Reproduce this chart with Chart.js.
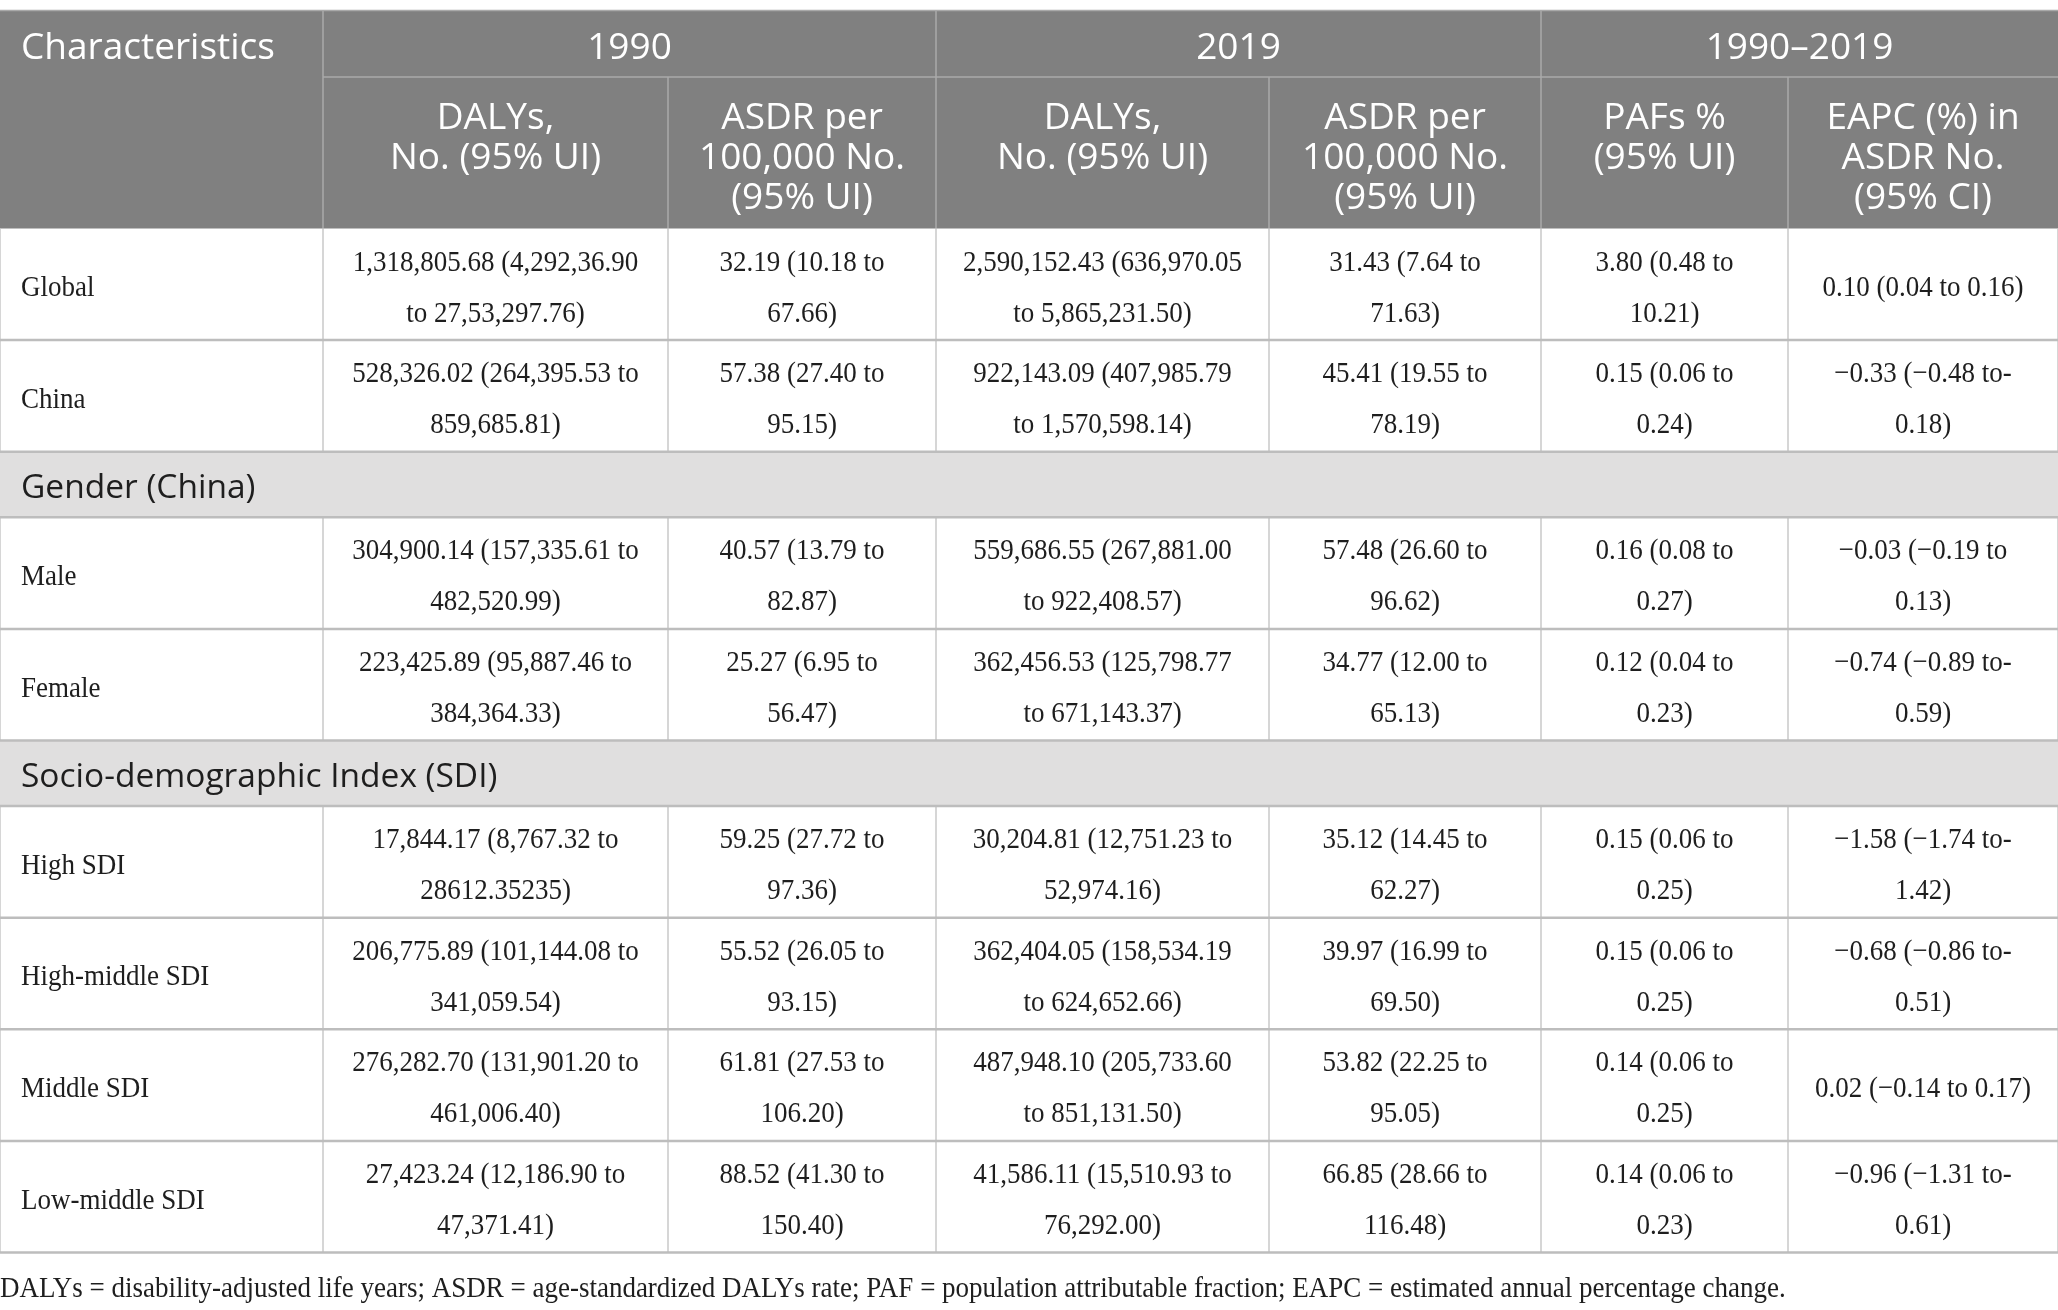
<!DOCTYPE html>
<html>
<head>
<meta charset="utf-8">
<title>DALYs table</title>
<script src="https://cdn.jsdelivr.net/npm/chart.js@4.4.1/dist/chart.umd.min.js"></script>
<style>
  html, body { margin: 0; padding: 0; background: #fff; }
  #wrap { width: 2058px; height: 1310px; }
</style>
</head>
<body>
<div id="wrap"><canvas id="tabla"></canvas></div>
<script>
// Datos
const periodos = ["1990", "2019", "1990–2019"];
const encabezados = [
  "DALYs,\nNo. (95% UI)",
  "ASDR per\n100,000 No.\n(95% UI)",
  "DALYs,\nNo. (95% UI)",
  "ASDR per\n100,000 No.\n(95% UI)",
  "PAFs %\n(95% UI)",
  "EAPC (%) in\nASDR No.\n(95% CI)",
];
const filas = ["Global", "China", "Male", "Female", "High SDI", "High-middle SDI", "Middle SDI", "Low-middle SDI"];
const grupos = ["Gender (China)", "Socio-demographic Index (SDI)"];
const inicioGrupo = [2, 4]; // fila donde empieza cada grupo

const dalys1990 = [
  "1,318,805.68 (4,292,36.90\nto 27,53,297.76)",
  "528,326.02 (264,395.53 to\n859,685.81)",
  "304,900.14 (157,335.61 to\n482,520.99)",
  "223,425.89 (95,887.46 to\n384,364.33)",
  "17,844.17 (8,767.32 to\n28612.35235)",
  "206,775.89 (101,144.08 to\n341,059.54)",
  "276,282.70 (131,901.20 to\n461,006.40)",
  "27,423.24 (12,186.90 to\n47,371.41)",
];
const asdr1990 = [
  "32.19 (10.18 to\n67.66)",
  "57.38 (27.40 to\n95.15)",
  "40.57 (13.79 to\n82.87)",
  "25.27 (6.95 to\n56.47)",
  "59.25 (27.72 to\n97.36)",
  "55.52 (26.05 to\n93.15)",
  "61.81 (27.53 to\n106.20)",
  "88.52 (41.30 to\n150.40)",
];
const dalys2019 = [
  "2,590,152.43 (636,970.05\nto 5,865,231.50)",
  "922,143.09 (407,985.79\nto 1,570,598.14)",
  "559,686.55 (267,881.00\nto 922,408.57)",
  "362,456.53 (125,798.77\nto 671,143.37)",
  "30,204.81 (12,751.23 to\n52,974.16)",
  "362,404.05 (158,534.19\nto 624,652.66)",
  "487,948.10 (205,733.60\nto 851,131.50)",
  "41,586.11 (15,510.93 to\n76,292.00)",
];
const asdr2019 = [
  "31.43 (7.64 to\n71.63)",
  "45.41 (19.55 to\n78.19)",
  "57.48 (26.60 to\n96.62)",
  "34.77 (12.00 to\n65.13)",
  "35.12 (14.45 to\n62.27)",
  "39.97 (16.99 to\n69.50)",
  "53.82 (22.25 to\n95.05)",
  "66.85 (28.66 to\n116.48)",
];
const pafs = [
  "3.80 (0.48 to\n10.21)",
  "0.15 (0.06 to\n0.24)",
  "0.16 (0.08 to\n0.27)",
  "0.12 (0.04 to\n0.23)",
  "0.15 (0.06 to\n0.25)",
  "0.15 (0.06 to\n0.25)",
  "0.14 (0.06 to\n0.25)",
  "0.14 (0.06 to\n0.23)",
];
const eapc = [
  "0.10 (0.04 to 0.16)",
  "−0.33 (−0.48 to-\n0.18)",
  "−0.03 (−0.19 to\n0.13)",
  "−0.74 (−0.89 to-\n0.59)",
  "−1.58 (−1.74 to-\n1.42)",
  "−0.68 (−0.86 to-\n0.51)",
  "0.02 (−0.14 to 0.17)",
  "−0.96 (−1.31 to-\n0.61)",
];
const nota = "DALYs = disability-adjusted life years; ASDR = age-standardized DALYs rate; PAF = population attributable fraction; EAPC = estimated annual percentage change.";

const columnas = [filas, dalys1990, asdr1990, dalys2019, asdr2019, pafs, eapc];

// Layout (unidades de la escala)
const ANCHO = 2058, ALTO = 1310;
const bordesCol = [0, 323, 668, 936, 1269, 1541, 1788, 2058];
const TOPE = 10.5, CAB1 = 77, CAB2 = 228.5;
const ALTO_FILA = 111.6, ALTO_GRUPO = 65.6;
const SANS = '"Open Sans", "Noto Sans", sans-serif';
const SERIF = '"Liberation Serif", "DejaVu Serif", serif';
const ESTRECHO = 0.9; // la serif del original es condensada

// texto serif condensado, varias lineas centradas en cy
const lineasTexto = (ctx, txt, cx, cy, paso, align) => {
  const partes = txt.split("\n");
  partes.forEach((p, i) => {
    ctx.save();
    ctx.translate(cx, cy + (i - (partes.length - 1) / 2) * paso);
    ctx.scale(ESTRECHO, 1);
    ctx.textAlign = align;
    ctx.fillText(p, 0, 0);
    ctx.restore();
  });
};

const pluginTabla = {
  id: "tabla",
  afterDraw(chart) {
    const { ctx, scales } = chart;
    const X = (v) => scales.x.getPixelForValue(v);
    const Y = (v) => scales.y.getPixelForValue(v);
    ctx.save();
    ctx.textBaseline = "middle";

    // Cabecera
    ctx.fillStyle = "#808080";
    ctx.fillRect(X(0), Y(TOPE), X(ANCHO) - X(0), Y(CAB2) - Y(TOPE));
    ctx.strokeStyle = "#a9a9a9";
    ctx.lineWidth = 1.5;
    ctx.beginPath();
    ctx.moveTo(X(0), Y(TOPE)); ctx.lineTo(X(ANCHO), Y(TOPE));
    ctx.moveTo(X(bordesCol[1]), Y(CAB1)); ctx.lineTo(X(ANCHO), Y(CAB1));
    [1, 3, 5].forEach((c) => { ctx.moveTo(X(bordesCol[c]), Y(TOPE)); ctx.lineTo(X(bordesCol[c]), Y(CAB2)); });
    [2, 4, 6].forEach((c) => { ctx.moveTo(X(bordesCol[c]), Y(CAB1)); ctx.lineTo(X(bordesCol[c]), Y(CAB2)); });
    ctx.stroke();

    ctx.fillStyle = "#ffffff";
    ctx.font = `400 37px ${SANS}`;
    ctx.textAlign = "left";
    ctx.fillText("Characteristics", X(21), Y(48));
    periodos.forEach((p, i) => {
      const a = bordesCol[1 + i * 2], b = bordesCol[3 + i * 2];
      ctx.textAlign = "center";
      ctx.fillText(p, X((a + b) / 2), Y(48));
    });
    encabezados.forEach((h, i) => {
      const a = bordesCol[1 + i], b = bordesCol[2 + i];
      h.split("\n").forEach((linea, k) => {
        ctx.textAlign = "center";
        ctx.fillText(linea, X((a + b) / 2), Y(118 + k * 40));
      });
    });

    // Cuerpo
    let y0 = CAB2;
    const horizontales = [];
    filas.forEach((f, r) => {
      const g = inicioGrupo.indexOf(r);
      if (g >= 0) {
        ctx.fillStyle = "#e0dfdf";
        ctx.fillRect(X(0), Y(y0), X(ANCHO) - X(0), Y(y0 + ALTO_GRUPO) - Y(y0));
        ctx.fillStyle = "#1e1e1e";
        ctx.font = `400 33.5px ${SANS}`;
        ctx.textAlign = "left";
        ctx.fillText(grupos[g], X(21), Y(y0 + ALTO_GRUPO / 2 + 4));
        y0 += ALTO_GRUPO;
        horizontales.push([y0, null]);
      }
      const y1 = y0 + ALTO_FILA;
      ctx.fillStyle = "#1e1e1e";
      ctx.font = `400 30px ${SERIF}`;
      columnas.forEach((col, c) => {
        const a = bordesCol[c], b = bordesCol[c + 1];
        const cy = Y((y0 + y1) / 2 + 4);
        if (c === 0) lineasTexto(ctx, col[r], X(21), cy, Y(51) - Y(0), "left");
        else lineasTexto(ctx, col[r], X((a + b) / 2), cy, Y(51) - Y(0), "center");
      });
      horizontales.push([y1, [y0, y1]]);
      y0 = y1;
    });

    // Lineas del cuerpo
    ctx.strokeStyle = "#c9c9c9";
    ctx.lineWidth = 1.5;
    ctx.beginPath();
    horizontales.forEach(([, tramo]) => {
      if (!tramo) return;
      bordesCol.forEach((bx) => {
        ctx.moveTo(X(bx), Y(tramo[0])); ctx.lineTo(X(bx), Y(tramo[1]));
      });
    });
    ctx.stroke();
    ctx.strokeStyle = "#bdbdbd";
    ctx.lineWidth = 2.5;
    ctx.beginPath();
    horizontales.forEach(([hy]) => { ctx.moveTo(X(0), Y(hy)); ctx.lineTo(X(ANCHO), Y(hy)); });
    ctx.stroke();

    // Nota
    ctx.fillStyle = "#1e1e1e";
    ctx.font = `400 30px ${SERIF}`;
    lineasTexto(ctx, nota, X(0), Y(1289), 0, "left");
    ctx.restore();
  },
};

const ctx = document.getElementById("tabla");
const tabla = new Chart(ctx, {
  type: "scatter",
  data: { datasets: [{ data: [] }] },
  options: {
    animation: false,
    responsive: true,
    maintainAspectRatio: false,
    layout: { padding: 0 },
    plugins: { legend: { display: false }, tooltip: { enabled: false } },
    scales: {
      x: { type: "linear", min: 0, max: ANCHO, display: false },
      y: { type: "linear", min: 0, max: ALTO, reverse: true, display: false },
    },
  },
  plugins: [pluginTabla],
});
</script>
</body>
</html>
